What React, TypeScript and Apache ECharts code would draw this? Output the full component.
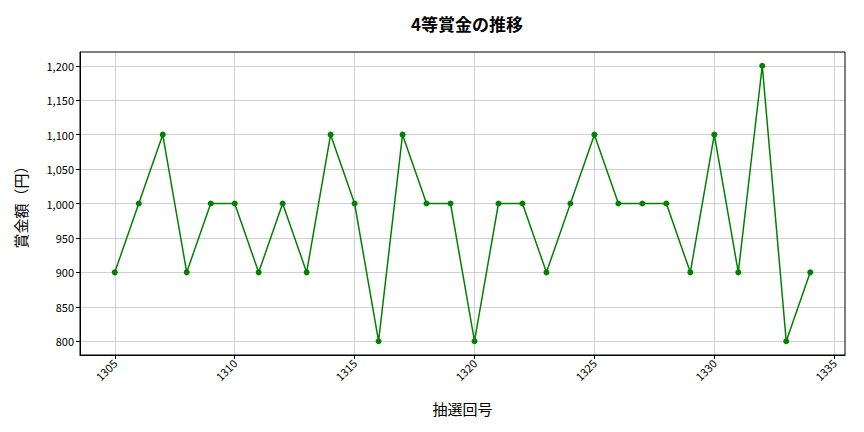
import React, { useEffect, useRef } from 'react';
import * as echarts from 'echarts';

const drawNumbers = [1305, 1306, 1307, 1308, 1309, 1310, 1311, 1312, 1313, 1314, 1315, 1316, 1317, 1318, 1319, 1320, 1321, 1322, 1323, 1324, 1325, 1326, 1327, 1328, 1329, 1330, 1331, 1332, 1333, 1334];
const prizes = [900, 1000, 1100, 900, 1000, 1000, 900, 1000, 900, 1100, 1000, 800, 1100, 1000, 1000, 800, 1000, 1000, 900, 1000, 1100, 1000, 1000, 1000, 900, 1100, 900, 1200, 800, 900];
const xTicks = [1305, 1310, 1315, 1320, 1325, 1330, 1335];
const yTicks = [800, 850, 900, 950, 1000, 1050, 1100, 1150, 1200];

const FONT = '"Noto Sans CJK JP", "Noto Sans", sans-serif';

const App: React.FC = () => {
  const ref = useRef<HTMLDivElement | null>(null);

  useEffect(() => {
    if (!ref.current) return;
    const chart = echarts.init(ref.current, null, { renderer: 'svg' });
    const grid = { left: 80, right: 19, top: 52, bottom: 77 };
    const gridLine = { show: true, lineStyle: { color: '#c4c4c4', width: 0.8 } };
    chart.setOption({
      animation: false,
      textStyle: { fontFamily: FONT },
      title: {
        text: '4等賞金の推移',
        left: 462,
        top: 10,
        textAlign: 'center',
        textStyle: { fontSize: 17, fontWeight: 'bold', color: '#000', fontFamily: FONT }
      },
      grid,
      xAxis: {
        type: 'value',
        min: 1303.55,
        max: 1335.45,
        name: '抽選回号',
        nameLocation: 'middle',
        nameGap: 46,
        nameTextStyle: { fontSize: 15, color: '#000', fontFamily: FONT },
        axisLine: { show: true, onZero: false, lineStyle: { color: '#000', width: 1 } },
        axisTick: { show: true, customValues: xTicks, length: 4, lineStyle: { color: '#000' } },
        axisLabel: {
          customValues: xTicks,
          rotate: 45,
          fontSize: 11,
          color: '#000',
          margin: 6,
          fontFamily: FONT,
          formatter: (v: number) => String(v)
        },
        splitLine: gridLine
      },
      yAxis: {
        type: 'value',
        min: 780,
        max: 1220,
        name: '賞金額（円）',
        nameLocation: 'middle',
        nameGap: 52,
        nameRotate: 90,
        nameTextStyle: { fontSize: 15, color: '#000', fontFamily: FONT },
        axisLine: { show: true, lineStyle: { color: '#000', width: 1 } },
        axisTick: { show: true, customValues: yTicks, length: 4, lineStyle: { color: '#000' } },
        axisLabel: {
          customValues: yTicks,
          fontSize: 11,
          color: '#000',
          margin: 6,
          fontFamily: FONT,
          formatter: (v: number) => v.toLocaleString('en-US')
        },
        splitLine: gridLine
      },
      graphic: [
        {
          type: 'rect',
          shape: { x: grid.left, y: grid.top, width: 864 - grid.left - grid.right, height: 432 - grid.top - grid.bottom },
          style: { fill: 'none', stroke: '#000', lineWidth: 1 },
          silent: true,
          z: 10
        }
      ],
      series: [
        {
          type: 'line',
          data: drawNumbers.map((d, i) => [d, prizes[i]]),
          symbol: 'circle',
          symbolSize: 6,
          lineStyle: { color: '#008000', width: 1.5 },
          itemStyle: { color: '#008000' }
        }
      ]
    });
    return () => chart.dispose();
  }, []);

  return <div ref={ref} style={{ position: 'fixed', left: 0, top: 0, width: 864, height: 432, background: '#fff' }} />;
};

export default App;
